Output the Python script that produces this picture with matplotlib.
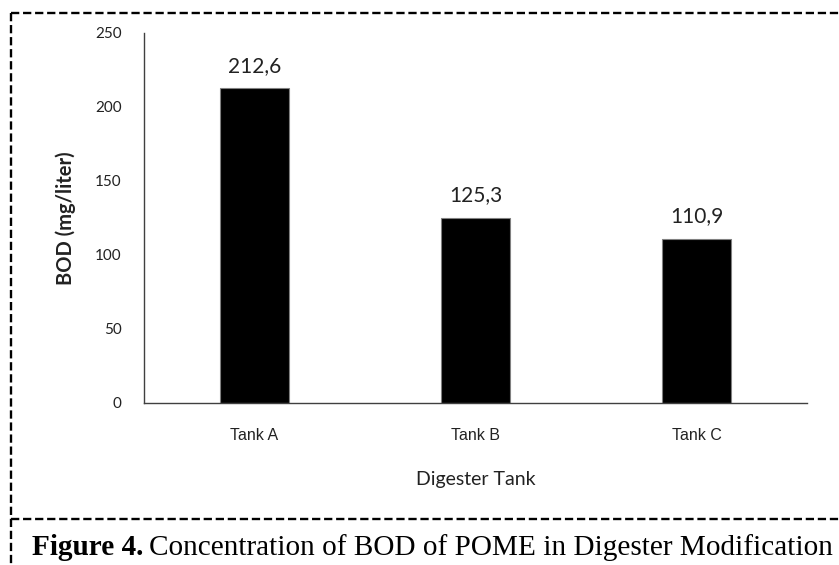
import matplotlib

matplotlib.use("Agg")
import matplotlib.pyplot as plt
from matplotlib.lines import Line2D

tanks = ["Tank A", "Tank B", "Tank C"]
bod = [212.6, 125.3, 110.9]
bod_labels = ["212,6", "125,3", "110,9"]
yticks = [0, 50, 100, 150, 200, 250]

W, H = 839, 565
fig = plt.figure(figsize=(W / 100, H / 100), dpi=100)
ax = fig.add_axes([144 / W, 1 - 403 / H, (807 - 144) / W, (403 - 33) / H])

x = range(len(tanks))
ax.bar(x, bod, 0.31, color="black", edgecolor="#808080", linewidth=0.8, zorder=2)
for xi, v, lab in zip(x, bod, bod_labels):
    ax.annotate(lab, (xi, v), xytext=(0, 9), textcoords="offset points",
                ha="center", va="bottom", fontsize=15, family="Lato", color="#222222")

ax.set_xlim(-0.5, 2.5)
ax.set_ylim(0, 250)
ax.set_yticks(yticks)
ax.set_xticks(list(x), tanks, fontsize=11.5, family="Liberation Sans")
for t in ax.get_yticklabels():
    t.set_family("Lato")
    t.set_fontsize(11)
ax.tick_params(axis="both", length=0, colors="#222222")
ax.tick_params(axis="y", pad=16)
ax.tick_params(axis="x", pad=18)
for s in ("top", "right"):
    ax.spines[s].set_visible(False)
for s in ("left", "bottom"):
    ax.spines[s].set_color("#404040")
    ax.spines[s].set_linewidth(1.0)

fig.text(476 / W, 1 - 480 / H, "Digester Tank", ha="center", va="center",
         fontsize=14, family="Lato", color="#222222")
fig.text(66 / W, 1 - 218 / H, "BOD (mg/liter)", ha="center", va="center",
         rotation=90, fontsize=14.5, family="Lato", fontweight="bold", color="#222222")

# caption: bold prefix then regular text
cap1 = fig.text(32 / W, 1 - 555 / H, "Figure 4.", ha="left", va="baseline",
                fontsize=21.1, family="Liberation Serif", fontweight="bold")
fig.canvas.draw()
bb = cap1.get_window_extent()
fig.text(bb.x1 / W + 6 / W, 1 - 555 / H, "Concentration of BOD of POME in Digester Modification",
         ha="left", va="baseline", fontsize=21.1, family="Liberation Serif")

# dashed frame
dash = dict(color="black", lw=1.7, dashes=(3.5, 1.6), transform=fig.transFigure)
fig.add_artist(Line2D([11 / W, 11 / W], [1 - 13 / H, 0], **dash))
fig.add_artist(Line2D([11 / W, 1], [1 - 13 / H, 1 - 13 / H], **dash))
fig.add_artist(Line2D([11 / W, 1], [1 - 519 / H, 1 - 519 / H], **dash))

fig.savefig("out.png", dpi=100)
